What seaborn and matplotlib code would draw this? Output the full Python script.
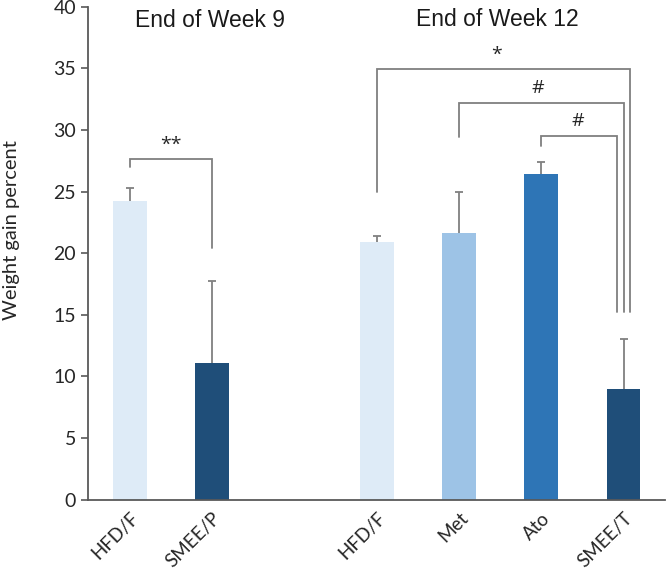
import pandas as pd
import matplotlib.pyplot as plt
import seaborn as sns

# data
groups = ['HFD/F_9', 'SMEE/P_9', 'HFD/F_12', 'Met_12', 'Ato_12', 'SMEE/T_12']
tick_labels = ['HFD/F', 'SMEE/P', 'HFD/F', 'Met', 'Ato', 'SMEE/T']
means = [24.2, 11.1, 20.9, 21.6, 26.4, 9.0]
errors = [1.1, 6.6, 0.5, 3.4, 1.0, 4.0]
colors = ['#deebf7', '#1f4e79', '#deebf7', '#9dc3e6', '#2e75b6', '#1f4e79']

# empty slot between the two time points
order = groups[:2] + ['gap'] + groups[2:]
pos = {g: order.index(g) for g in groups}

df = pd.DataFrame({'group': groups, 'mean': means, 'err': errors})

sns.set_style('white')
plt.rcParams['font.family'] = ['Lato', 'DejaVu Sans']

fig = plt.figure(figsize=(6.66, 5.75), dpi=100)
ax = fig.add_axes([0.132, 0.131, 0.866, 0.8575])

sns.barplot(data=df, x='group', y='mean', order=order, hue='group',
            palette=dict(zip(groups, colors)), width=0.41, legend=False,
            errorbar=None, ax=ax, linewidth=0, saturation=1, zorder=2)

# error bars sit behind the bars so only the upper half shows
xs = [pos[g] for g in groups]
ax.errorbar(xs, means, yerr=errors, fmt='none', ecolor='#808080',
            elinewidth=1.3, capsize=3, capthick=1.3, zorder=1)

ax.set_xlim(-0.51, 6.5)
ax.set_ylim(0, 40)
ax.set_yticks(range(0, 41, 5))
ax.set_xticks(xs)
ax.set_xticklabels(tick_labels, rotation=45, ha='right', rotation_mode='anchor',
                   fontsize=13.5, color='#262626')
ax.tick_params(axis='x', length=0, pad=7)
ax.tick_params(axis='y', length=5, width=1.2, color='#595959', labelsize=14,
               labelcolor='#262626', left=True, direction='out')
ax.set_xlabel('')
ax.set_ylabel('Weight gain percent', fontsize=14.5, color='#262626')
ax.yaxis.set_label_coords(-0.118, 0.547)

for s in ['top', 'right']:
    ax.spines[s].set_visible(False)
for s in ['left', 'bottom']:
    ax.spines[s].set_color('#595959')
    ax.spines[s].set_linewidth(1.3)
    ax.spines[s].set_zorder(3)

# titles for the two time points
ax.text(0.97, 38.85, 'End of Week 9', ha='center', va='center', fontsize=16.5,
        family='Liberation Sans', color='#1a1a1a')
ax.text(4.46, 38.95, 'End of Week 12', ha='center', va='center', fontsize=16.5,
        family='Liberation Sans', color='#1a1a1a')

# significance brackets
bcol = '#7f7f7f'


def bracket(x1, x2, y, y1, y2, label, lx):
    ax.plot([x1, x1, x2, x2], [y1, y, y, y2], color=bcol, lw=1.3,
            solid_joinstyle='miter', clip_on=False)
    ax.text(lx, y + 0.45, label, ha='center', va='bottom', fontsize=14,
            family='Open Sans', color='#262626')


bracket(pos['HFD/F_9'], pos['SMEE/P_9'], 27.6, 27.0, 20.4, '**', 0.5)
bracket(pos['HFD/F_12'], pos['SMEE/T_12'] + 0.073, 34.9, 25.0, 15.2, '*', 4.46)
bracket(pos['Met_12'], pos['SMEE/T_12'], 32.2, 29.4, 15.2, '#', 4.96)
bracket(pos['Ato_12'], pos['SMEE/T_12'] - 0.08, 29.5, 28.7, 15.2, '#', 5.44)

fig.savefig('out.png', dpi=100)
